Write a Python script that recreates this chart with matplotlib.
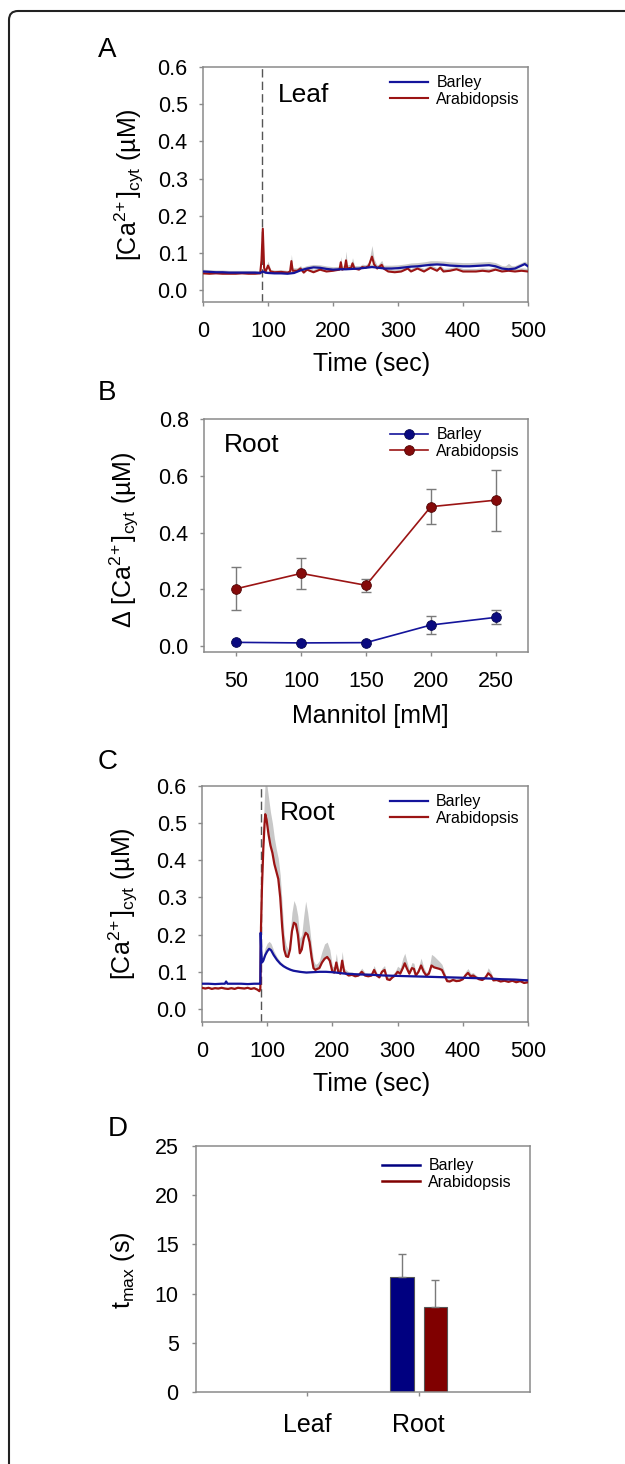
import matplotlib
matplotlib.use("Agg")
import matplotlib.pyplot as plt
import matplotlib.patches as mpatches
from matplotlib.lines import Line2D
import numpy as np

plt.rcParams['font.family'] = ['Liberation Sans', 'DejaVu Sans']
plt.rcParams['mathtext.fontset'] = 'custom'
plt.rcParams['mathtext.rm'] = 'Liberation Sans'
plt.rcParams['mathtext.it'] = 'Liberation Sans:italic'
plt.rcParams['mathtext.bf'] = 'Liberation Sans:bold'

# ---------------- DATA ----------------
# Panel A (Leaf time course)
tA_barley = [0, 10, 20, 30, 40, 50, 60, 70, 80, 88,
             92, 96, 100, 110, 120, 130, 140, 150, 160, 170,
             180, 190, 200, 210, 220, 230, 240, 250, 260, 270,
             280, 290, 300, 310, 320, 330, 340, 350, 360, 370,
             380, 390, 400, 410, 420, 430, 440, 450, 460, 470,
             480, 490, 495, 500]
vA_barley = [0.050, 0.049, 0.048, 0.048, 0.047, 0.047, 0.047, 0.047, 0.047, 0.046,
             0.050, 0.047, 0.046, 0.045, 0.045, 0.044, 0.046, 0.053, 0.058, 0.061,
             0.060, 0.057, 0.055, 0.056, 0.056, 0.057, 0.058, 0.060, 0.062, 0.060,
             0.058, 0.058, 0.059, 0.061, 0.063, 0.064, 0.066, 0.068, 0.069, 0.068,
             0.066, 0.065, 0.064, 0.064, 0.065, 0.066, 0.067, 0.064, 0.058, 0.056,
             0.058, 0.066, 0.070, 0.064]
sA_barley = [0.006, 0.006, 0.006, 0.006, 0.006, 0.006, 0.006, 0.006, 0.006, 0.006,
             0.006, 0.006, 0.006, 0.006, 0.006, 0.006, 0.006, 0.007, 0.008, 0.008,
             0.008, 0.008, 0.008, 0.008, 0.008, 0.008, 0.008, 0.008, 0.008, 0.008,
             0.009, 0.009, 0.009, 0.009, 0.010, 0.010, 0.010, 0.011, 0.010, 0.010,
             0.010, 0.010, 0.010, 0.010, 0.010, 0.010, 0.010, 0.010, 0.008, 0.008,
             0.008, 0.008, 0.008, 0.008]

tA_arab = [0, 10, 20, 30, 40, 50, 60, 70, 80, 88,
           90, 92, 94, 96, 100, 104, 110, 120, 130, 134,
           136, 138, 145, 150, 155, 160, 170, 180, 190, 200,
           210, 212, 214, 218, 220, 222, 228, 230, 233, 240,
           245, 250, 255, 260, 263, 268, 275, 278, 285, 295,
           305, 315, 320, 330, 340, 350, 360, 365, 370, 380,
           390, 400, 410, 420, 430, 440, 450, 460, 470, 480,
           490, 500]
vA_arab = [0.045, 0.044, 0.045, 0.044, 0.044, 0.044, 0.045, 0.044, 0.044, 0.045,
           0.080, 0.165, 0.060, 0.048, 0.066, 0.050, 0.048, 0.049, 0.047, 0.050,
           0.078, 0.052, 0.052, 0.058, 0.047, 0.055, 0.048, 0.055, 0.050, 0.052,
           0.055, 0.075, 0.055, 0.058, 0.080, 0.058, 0.060, 0.072, 0.058, 0.055,
           0.062, 0.060, 0.065, 0.090, 0.070, 0.058, 0.068, 0.058, 0.050, 0.048,
           0.050, 0.058, 0.050, 0.058, 0.050, 0.060, 0.052, 0.060, 0.050, 0.052,
           0.056, 0.050, 0.050, 0.050, 0.052, 0.050, 0.055, 0.050, 0.052, 0.050,
           0.052, 0.050]
sA_arab = [0.006, 0.006, 0.006, 0.006, 0.006, 0.006, 0.006, 0.006, 0.006, 0.006,
           0.005, 0.005, 0.006, 0.006, 0.012, 0.006, 0.006, 0.006, 0.006, 0.006,
           0.018, 0.008, 0.008, 0.008, 0.008, 0.008, 0.008, 0.008, 0.008, 0.008,
           0.008, 0.015, 0.008, 0.010, 0.025, 0.010, 0.010, 0.015, 0.008, 0.008,
           0.008, 0.008, 0.010, 0.030, 0.015, 0.008, 0.012, 0.008, 0.008, 0.008,
           0.008, 0.008, 0.008, 0.008, 0.008, 0.008, 0.008, 0.008, 0.008, 0.008,
           0.008, 0.008, 0.008, 0.008, 0.008, 0.008, 0.008, 0.008, 0.020, 0.008,
           0.008, 0.008]

# Panel B (Root, mannitol dose response)
mannitol = [50, 100, 150, 200, 250]
dB_barley = [0.013, 0.011, 0.012, 0.074, 0.101]
eB_barley = [0.004, 0.004, 0.004, 0.031, 0.025]
dB_arab = [0.202, 0.256, 0.214, 0.491, 0.514]
eB_arab = [0.076, 0.054, 0.022, 0.061, 0.107]

# Panel C (Root time course)
tC_barley = [0, 10, 20, 30, 35, 37, 39, 45, 50, 60,
             70, 80, 88, 89.5, 90, 91, 92, 94, 97, 100,
             103, 106, 110, 115, 120, 125, 130, 135, 140, 150,
             160, 170, 180, 190, 200, 220, 240, 260, 280, 300,
             320, 340, 360, 380, 400, 420, 440, 460, 480, 500]
vC_barley = [0.068, 0.068, 0.067, 0.068, 0.068, 0.074, 0.068, 0.068, 0.068, 0.068,
             0.067, 0.068, 0.068, 0.068, 0.205, 0.150, 0.125, 0.130, 0.145, 0.155,
             0.162, 0.158, 0.145, 0.132, 0.122, 0.115, 0.110, 0.106, 0.103, 0.100,
             0.098, 0.099, 0.100, 0.100, 0.099, 0.095, 0.093, 0.092, 0.090, 0.089,
             0.088, 0.087, 0.086, 0.085, 0.084, 0.083, 0.082, 0.080, 0.079, 0.077]
sC_barley = [0.003, 0.003, 0.003, 0.003, 0.003, 0.003, 0.003, 0.003, 0.003, 0.003,
             0.003, 0.003, 0.003, 0.003, 0.005, 0.010, 0.010, 0.015, 0.020, 0.022,
             0.020, 0.018, 0.012, 0.008, 0.006, 0.005, 0.004, 0.004, 0.004, 0.004,
             0.004, 0.004, 0.004, 0.004, 0.004, 0.004, 0.004, 0.004, 0.004, 0.004,
             0.004, 0.004, 0.004, 0.004, 0.004, 0.004, 0.004, 0.004, 0.004, 0.004]

tC_arab = [0, 5, 10, 15, 20, 25, 30, 35, 40, 45, 50, 55, 60, 65, 70, 75, 80, 85, 88, 89.5,
           90.5, 92, 94, 96, 97, 99, 102, 105, 108, 111,
           114, 117, 120, 123, 126, 129, 132, 135, 138, 141,
           144, 147, 150, 153, 156, 159, 162, 165, 168, 171,
           174, 177, 180, 184, 188, 192, 196, 200, 203, 206,
           209, 212, 215, 218, 221, 225, 230, 235, 240, 245,
           250, 255, 260, 264, 268, 272, 276, 280, 284, 288,
           292, 296, 300, 304, 308, 311, 314, 318, 322, 325,
           328, 332, 336, 340, 344, 348, 352, 356, 360, 364,
           368, 372, 376, 380, 385, 390, 395, 400, 404, 408,
           412, 416, 420, 425, 430, 435, 439, 443, 447, 452,
           458, 464, 470, 476, 482, 488, 494, 500]
vC_arab = [0.057, 0.055, 0.057, 0.054, 0.056, 0.055, 0.057, 0.055, 0.054, 0.056,
           0.054, 0.057, 0.056, 0.055, 0.057, 0.054, 0.056, 0.052, 0.048, 0.055,
           0.220, 0.330, 0.430, 0.500, 0.524, 0.510, 0.470, 0.440, 0.420, 0.390,
           0.370, 0.350, 0.300, 0.220, 0.160, 0.142, 0.140, 0.160, 0.210, 0.232,
           0.228, 0.200, 0.150, 0.160, 0.190, 0.205, 0.200, 0.180, 0.140, 0.110,
           0.105, 0.108, 0.110, 0.125, 0.135, 0.140, 0.130, 0.100, 0.098, 0.125,
           0.100, 0.095, 0.130, 0.100, 0.095, 0.090, 0.092, 0.088, 0.090, 0.100,
           0.090, 0.088, 0.090, 0.105, 0.090, 0.085, 0.100, 0.105, 0.080, 0.078,
           0.085, 0.090, 0.100, 0.095, 0.110, 0.123, 0.110, 0.095, 0.110, 0.108,
           0.090, 0.100, 0.117, 0.100, 0.090, 0.095, 0.117, 0.112, 0.110, 0.108,
           0.105, 0.090, 0.075, 0.074, 0.078, 0.075, 0.076, 0.080, 0.090, 0.097,
           0.088, 0.090, 0.085, 0.080, 0.078, 0.085, 0.096, 0.090, 0.077, 0.078,
           0.074, 0.076, 0.073, 0.076, 0.072, 0.075, 0.070, 0.072]
sC_arab = [0.004, 0.004, 0.004, 0.004, 0.004, 0.004, 0.004, 0.004, 0.004, 0.004,
           0.004, 0.004, 0.004, 0.004, 0.004, 0.004, 0.004, 0.004, 0.004, 0.004,
           0.010, 0.030, 0.060, 0.080, 0.090, 0.100, 0.100, 0.090, 0.080, 0.070,
           0.060, 0.055, 0.060, 0.060, 0.040, 0.030, 0.020, 0.040, 0.050, 0.060,
           0.050, 0.050, 0.040, 0.040, 0.060, 0.085, 0.060, 0.040, 0.030, 0.020,
           0.015, 0.015, 0.020, 0.030, 0.040, 0.040, 0.030, 0.015, 0.015, 0.025,
           0.010, 0.010, 0.025, 0.010, 0.010, 0.010, 0.008, 0.008, 0.008, 0.010,
           0.008, 0.008, 0.008, 0.012, 0.008, 0.008, 0.010, 0.012, 0.008, 0.008,
           0.008, 0.010, 0.015, 0.015, 0.027, 0.027, 0.020, 0.010, 0.015, 0.015,
           0.008, 0.012, 0.020, 0.012, 0.008, 0.010, 0.030, 0.030, 0.025, 0.020,
           0.015, 0.010, 0.006, 0.006, 0.006, 0.006, 0.006, 0.006, 0.010, 0.012,
           0.008, 0.008, 0.006, 0.006, 0.006, 0.008, 0.015, 0.010, 0.006, 0.006,
           0.005, 0.005, 0.005, 0.005, 0.005, 0.005, 0.005, 0.005]

# Panel D (time to maximum)
tissues = ['Leaf', 'Root']
tmax_barley = [np.nan, 11.7]
tmax_barley_err = [np.nan, 2.3]
tmax_arab = [np.nan, 8.65]
tmax_arab_err = [np.nan, 2.75]

series_names = ['Barley', 'Arabidopsis']
treatment_time = 90

# ---------------- STYLE ----------------
BLUE = '#14149b'
RED = '#9b1414'
BLUE_M = '#0a0a80'
RED_M = '#850a0a'
BAR_BLUE = '#000080'
BAR_RED = '#800000'
BAND = '#c8c8c8'
SPINE = '#8a8a8a'
ERR = '#7a7a7a'

TICK_FS = 15.5
LABEL_FS = 18
INSET_FS = 19

W, H = 625, 1464
fig = plt.figure(figsize=(W / 100, H / 100), dpi=100)


def rect(l, r, t, b):
    return [l / W, (H - b) / H, (r - l) / W, (b - t) / H]


def style_axes(ax, xpad=11, ypad=8):
    for s in ax.spines.values():
        s.set_color(SPINE)
        s.set_linewidth(1.1)
    ax.tick_params(axis='both', direction='out', length=3, width=1, color=SPINE,
                   labelsize=TICK_FS)
    ax.tick_params(axis='x', pad=xpad)
    ax.tick_params(axis='y', pad=ypad)
    ax.tick_params(top=False, right=False)


ylab_ca = r'[Ca$^{2\!+}$]$_{\mathrm{cyt}}$ (µM)'

leg_kw = dict(frameon=False, fontsize=11.5, handlelength=2.4, handletextpad=0.5,
              labelspacing=0.1, borderpad=0, borderaxespad=0, loc='upper right')

# ---- Panel A ----
axA = fig.add_axes(rect(203, 528, 67, 302))
style_axes(axA)
for t, v, s in [(tA_barley, vA_barley, sA_barley), (tA_arab, vA_arab, sA_arab)]:
    v = np.array(v); s = np.array(s)
    axA.fill_between(t, v, v + s, color=BAND, lw=0, zorder=1)
lA1, = axA.plot(tA_arab, vA_arab, color=RED, lw=1.5, zorder=3)
lA0, = axA.plot(tA_barley, vA_barley, color=BLUE, lw=1.6, zorder=4)
axA.axvline(treatment_time, color='#555555', lw=1, ls=(0, (6, 3)), zorder=2)
axA.set_xlim(0, 500)
axA.set_ylim(-0.032, 0.6)
axA.set_xticks(range(0, 501, 100))
axA.set_yticks(np.arange(0, 0.61, 0.1))
axA.set_yticklabels([f'{v:.1f}' for v in np.arange(0, 0.61, 0.1)])
axA.set_xlabel('Time (sec)', fontsize=LABEL_FS)
axA.xaxis.set_label_coords(0.52, -0.214)
axA.set_ylabel(ylab_ca, fontsize=LABEL_FS)
axA.yaxis.set_label_coords(-0.175, 0.5)
axA.text(0.23, 0.88, 'Leaf', transform=axA.transAxes, fontsize=INSET_FS, va='center', ha='left')
axA.legend([lA0, lA1], series_names, bbox_to_anchor=(0.975, 0.965), **leg_kw)

# ---- Panel B ----
axB = fig.add_axes(rect(204, 528, 419, 652))
style_axes(axB)
axB.errorbar(mannitol, dB_arab, yerr=eB_arab, fmt='none', ecolor=ERR, elinewidth=1,
             capsize=3.5, capthick=1, zorder=2)
axB.errorbar(mannitol, dB_barley, yerr=eB_barley, fmt='none', ecolor=ERR, elinewidth=1,
             capsize=3.5, capthick=1, zorder=2)
lB0, = axB.plot(mannitol, dB_barley, color=BLUE, lw=1.2, marker='o', ms=7,
                mfc=BLUE_M, mec='#050550', mew=0.6, zorder=3)
lB1, = axB.plot(mannitol, dB_arab, color=RED, lw=1.2, marker='o', ms=7,
                mfc=RED_M, mec='#500505', mew=0.6, zorder=3)
axB.set_xlim(25, 275)
axB.set_ylim(-0.021, 0.8)
axB.set_xticks(mannitol)
axB.set_yticks(np.arange(0, 0.81, 0.2))
axB.set_yticklabels([f'{v:.1f}' for v in np.arange(0, 0.81, 0.2)])
axB.set_xlabel('Mannitol [mM]', fontsize=LABEL_FS)
axB.xaxis.set_label_coords(0.512, -0.225)
axB.set_ylabel('Δ ' + ylab_ca, fontsize=LABEL_FS)
axB.yaxis.set_label_coords(-0.195, 0.48)
axB.text(0.06, 0.89, 'Root', transform=axB.transAxes, fontsize=INSET_FS, va='center', ha='left')
axB.legend([lB0, lB1], series_names, bbox_to_anchor=(0.975, 0.965), **leg_kw)

# ---- Panel C ----
axC = fig.add_axes(rect(202, 528, 786, 1022))
style_axes(axC)
for t, v, s in [(tC_barley, vC_barley, sC_barley), (tC_arab, vC_arab, sC_arab)]:
    v = np.array(v); s = np.array(s)
    axC.fill_between(t, v, v + s, color=BAND, lw=0, zorder=1)
lC1, = axC.plot(tC_arab, vC_arab, color=RED, lw=1.6, zorder=3)
lC0, = axC.plot(tC_barley, vC_barley, color=BLUE, lw=1.6, zorder=4)
axC.axvline(treatment_time, color='#555555', lw=1, ls=(0, (6, 3)), zorder=2)
axC.set_xlim(0, 500)
axC.set_ylim(-0.035, 0.6)
axC.set_xticks(range(0, 501, 100))
axC.set_yticks(np.arange(0, 0.61, 0.1))
axC.set_yticklabels([f'{v:.1f}' for v in np.arange(0, 0.61, 0.1)])
axC.set_xlabel('Time (sec)', fontsize=LABEL_FS)
axC.xaxis.set_label_coords(0.52, -0.213)
axC.set_ylabel(ylab_ca, fontsize=LABEL_FS)
axC.yaxis.set_label_coords(-0.19, 0.5)
axC.text(0.24, 0.886, 'Root', transform=axC.transAxes, fontsize=INSET_FS, va='center', ha='left')
axC.legend([lC0, lC1], series_names, bbox_to_anchor=(0.975, 0.965), **leg_kw)

# ---- Panel D ----
axD = fig.add_axes(rect(196, 530, 1146, 1392))
style_axes(axD, xpad=12, ypad=9.5)
x = np.arange(len(tissues))
bw = 0.21
off = 0.15
axD.bar(x - off, tmax_barley, width=bw, color=BAR_BLUE, edgecolor='#555555', lw=0.8,
        yerr=[[0] * len(x), tmax_barley_err], error_kw=dict(ecolor=ERR, elinewidth=1,
                                                            capsize=3, capthick=1), zorder=2)
axD.bar(x + off, tmax_arab, width=bw, color=BAR_RED, edgecolor='#555555', lw=0.8,
        yerr=[[0] * len(x), tmax_arab_err], error_kw=dict(ecolor=ERR, elinewidth=1,
                                                          capsize=3, capthick=1), zorder=2)
axD.set_xlim(-1, 2)
axD.set_ylim(0, 25)
axD.set_xticks(x)
axD.set_xticklabels(tissues, fontsize=18)
axD.set_yticks(range(0, 26, 5))
axD.set_ylabel(r't$_{\mathrm{max}}$ (s)', fontsize=LABEL_FS)
axD.yaxis.set_label_coords(-0.177, 0.496)
hD = [Line2D([], [], color=BAR_BLUE, lw=1.8), Line2D([], [], color=BAR_RED, lw=1.8)]
axD.legend(hD, series_names, bbox_to_anchor=(0.946, 0.95), **leg_kw)

# ---- Panel letters ----
for letter, xp, yb in [('A', 98, 57), ('B', 98, 400), ('C', 98, 769), ('D', 108, 1136)]:
    fig.text(xp / W, (H - yb) / H, letter, fontsize=20, ha='left', va='baseline')

# ---- Frame (left + top with rounded corner) ----
frame = mpatches.FancyBboxPatch((9, -60), 700, (H - 11) + 60,
                                boxstyle='round,pad=0,rounding_size=9',
                                transform=None, fill=False, edgecolor='#222222', lw=1.5)
fig.add_artist(frame)

fig.savefig('out.png', dpi=100)
